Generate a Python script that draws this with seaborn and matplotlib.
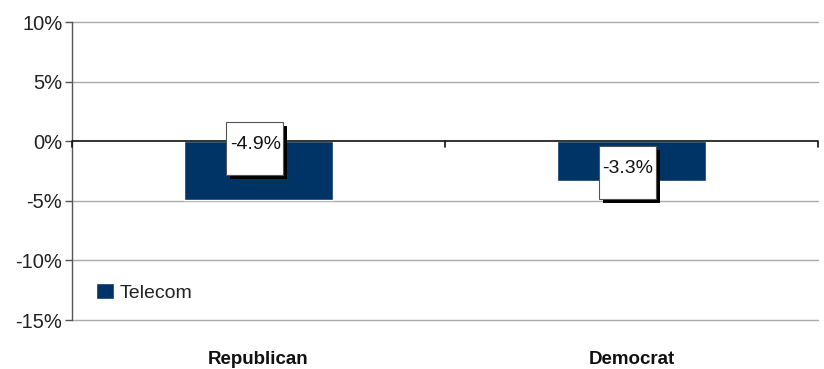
import matplotlib
matplotlib.use("Agg")
import matplotlib.pyplot as plt
from matplotlib.patches import Rectangle
from matplotlib.transforms import ScaledTranslation
import seaborn as sns
import pandas as pd

# Data
parties = ["Republican", "Democrat"]
telecom = [-4.9, -3.3]
value_labels = ["-4.9%", "-3.3%"]
label_y = [-0.6, -2.6]
label_dx = [-0.01, -0.012]
series_name = "Telecom"
y_ticks = [10, 5, 0, -5, -10, -15]
y_tick_labels = ["10%", "5%", "0%", "-5%", "-10%", "-15%"]

bar_color = "#003366"

sns.set_theme(style="white")
plt.rcParams["font.family"] = ["Liberation Sans", "DejaVu Sans"]

fig = plt.figure(figsize=(8.24, 3.69), dpi=100)
ax = fig.add_axes([72 / 824, 1 - 320 / 369, (818 - 72) / 824, (320 - 22) / 369])

df = pd.DataFrame({"party": parties, "value": telecom, "series": series_name})
sns.barplot(data=df, x="party", y="value", hue="series", palette=[bar_color],
            width=0.4, saturation=1, ax=ax, legend=True)

ax.set_ylim(-15, 10)
ax.set_xlim(-0.5, len(parties) - 0.5)
ax.set_yticks(y_ticks)
ax.set_yticklabels(y_tick_labels, fontsize=14.5, color="#222222")
ax.set_xticks(range(len(parties)))
ax.set_xticklabels(parties, fontsize=13.5, fontweight="bold", color="#111111")
ax.tick_params(axis="x", length=0, pad=22)
ax.tick_params(axis="y", length=5, width=1, color="#555555", direction="out", pad=2, left=True)
ax.set_xlabel("")
ax.set_ylabel("")

# gridlines
for t in y_ticks:
    if t != 0:
        ax.axhline(t, color="#aaaaaa", lw=1, zorder=0, clip_on=False)
ax.axhline(0, color="#111111", lw=1.2, zorder=3)

# category separator ticks on the zero line
for b in [i - 0.5 for i in range(len(parties) + 1)]:
    ax.plot([b, b], [0, -0.45], color="#111111", lw=1.2, zorder=3, clip_on=False)

for s in ["top", "right", "bottom"]:
    ax.spines[s].set_visible(False)
ax.spines["left"].set_color("#555555")
ax.spines["left"].set_linewidth(1)

# value labels in fixed-size boxed callouts with a drop shadow
box_w, box_h = 0.57, 0.53  # inches
shadow = 0.04
for i, (lab, yv, dx) in enumerate(zip(value_labels, label_y, label_dx)):
    anchor = ScaledTranslation(i + dx, yv, ax.transData)
    trans = fig.dpi_scale_trans + anchor
    ax.add_patch(Rectangle((-box_w / 2 + shadow, -box_h / 2 - shadow), box_w, box_h,
                           transform=trans, fc="black", ec="none", zorder=5, clip_on=False))
    ax.add_patch(Rectangle((-box_w / 2, -box_h / 2), box_w, box_h,
                           transform=trans, fc="white", ec="#555555", lw=0.8, zorder=6,
                           clip_on=False))
    ax.text(0.005, 0.04, lab, transform=trans, ha="center", va="center", fontsize=14,
            color="#111111", zorder=7)

leg = ax.legend(loc="lower left", bbox_to_anchor=(0.022, 0.035), frameon=False,
                fontsize=14, handlelength=0.9, handleheight=0.9, handletextpad=0.3,
                borderaxespad=0)
for t in leg.get_texts():
    t.set_color("#222222")

fig.savefig("out.png", dpi=100, facecolor="white")
